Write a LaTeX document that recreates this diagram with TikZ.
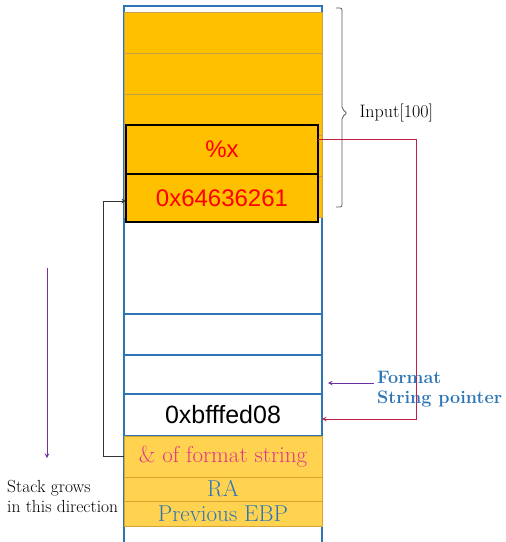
\documentclass[tikz,border=0pt]{standalone}
\usepackage{fontspec}
\newfontfamily\hexfont{Liberation Sans}
\usepackage{xcolor}
\usetikzlibrary{shapes,arrows,positioning}
\definecolor{stackblue}{HTML}{2E75B6}
\definecolor{gold}{HTML}{FFC000}
\definecolor{goldline}{HTML}{C4A24C}
\definecolor{lightgold}{HTML}{FFD34F}
\definecolor{lightgoldline}{HTML}{D6A430}
\definecolor{linkred}{HTML}{C01F45}
\definecolor{fmtpink}{HTML}{E3358A}
\definecolor{growpurple}{HTML}{7030A0}

\begin{document}
\begin{tikzpicture}[
    x=1pt, y=-1pt,
    cell/.style={rectangle, draw=stackblue, line width=1.3pt, minimum width=198pt, inner sep=0pt, outer sep=0pt},
    topcell/.style={cell, draw=goldline, line width=0.9pt, fill=gold},
    lowcell/.style={cell, draw=lightgoldline, line width=1pt, fill=lightgold, font=\fontsize{23}{26}\selectfont},
    inbox/.style={rectangle, draw=black, line width=1.3pt, fill=gold, minimum width=192pt, inner sep=0pt, outer sep=0pt, text=red, font=\hexfont\fontsize{24}{28}\selectfont},
    arrow/.style={->, >=stealth, line width=1pt}
]
    \useasboundingbox (0,0) rectangle (506,542);

    % Stack
    \node[cell, minimum height=540pt] (stack) at (223,276) {};
    \node[topcell, minimum height=41pt] (cellA) at (223,32.5) {};
    \node[topcell, minimum height=41pt, below=0pt of cellA] (cellB) {};
    \node[topcell, minimum height=41pt, below=0pt of cellB] (cellC) {};
    \node[topcell, minimum height=41pt, below=0pt of cellC] (cellD) {};
    \node[topcell, minimum height=41pt, below=0pt of cellD] (cellE) {};
    \node[inbox, minimum height=49pt] (pct) at (222,149.5) {\%x};
    \node[inbox, minimum height=48pt, below=0pt of pct] (hex) {0x64636261};
    \node[cell, minimum height=41pt] (cellF) at (223,334.5) {};
    \node[cell, minimum height=39pt, below=0pt of cellF] (cellG) {};
    \node[cell, minimum height=42pt, below=0pt of cellG, font=\hexfont\fontsize{25}{28}\selectfont] (ptr) {0xbfffed08};
    \node[lowcell, minimum height=41pt, below=0pt of ptr, text=fmtpink] (fmt) {\& of format string};
    \node[lowcell, minimum height=24pt, below=0pt of fmt, text=stackblue] (ra) {RA};
    \node[lowcell, minimum height=25pt, below=0pt of ra, text=stackblue] (ebp) {Previous EBP};

    % Labels
    \draw[black!65, line width=0.8pt, rounded corners=2pt] (336,8) -- (342,8) -- (342,109) -- (347,113) -- (342,117) -- (342,207) -- (336,207);
    \node[anchor=west, font=\fontsize{18}{21}\selectfont] (input) at (356,113) {Input[100]};
    \coordinate (growtop) at (47,268);
    \coordinate (growbot) at (47,458);
    \node[anchor=north west, align=left, inner sep=0pt, font=\fontsize{17.5}{20}\selectfont] (grow) at (7,480) {Stack grows\\in this direction};
    \coordinate (ptrtip) at (328,383);

    % Arrows
    \draw[arrow, black!80] (fmt.west) -- ++(-21,0) |- ([yshift=-3pt]hex.west);
    \draw[arrow, linkred] ([yshift=10pt]pct.east) -- ++(98,0) |- ([yshift=-4pt]ptr.east);
    \draw[arrow, growpurple] (growtop) -- (growbot);
    \node[anchor=north west, align=left, inner sep=0pt, text=stackblue, font=\bfseries\fontsize{18}{20}\selectfont] (fmtptr) at (377,371) {Format\\String pointer};
    \draw[arrow, growpurple] (fmtptr.west |- ptrtip) ++(-3,0) -- (ptrtip);
\end{tikzpicture}
\end{document}
